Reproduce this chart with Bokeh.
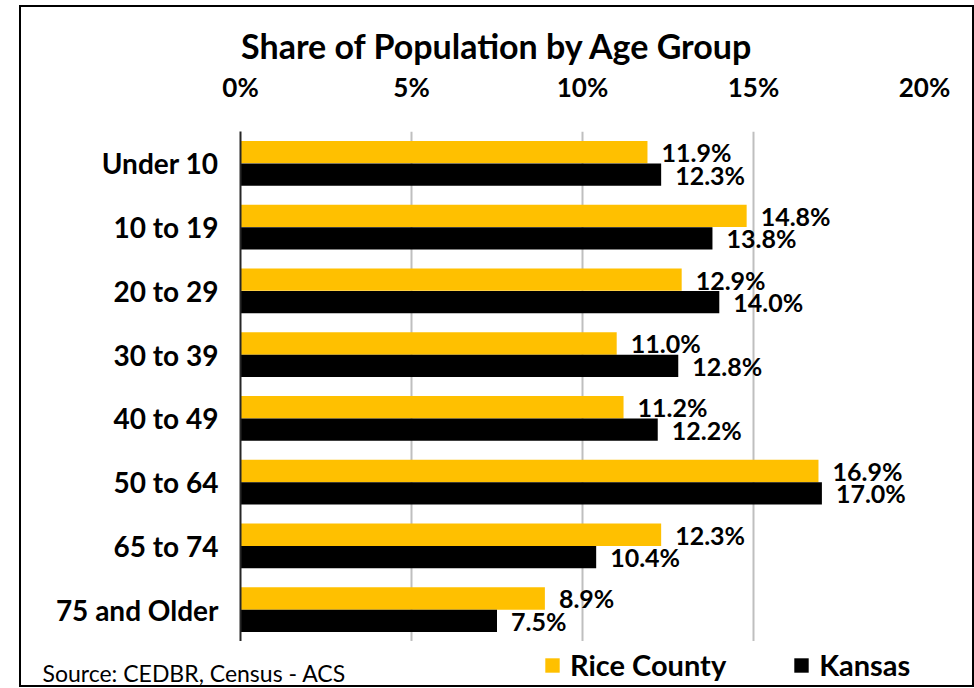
from bokeh.plotting import figure
from bokeh.layouts import column
from bokeh.models import (ColumnDataSource, FactorRange, Range1d, FixedTicker,
                          PrintfTickFormatter, LabelSet, Legend, LegendItem, Label)
from bokeh.transform import dodge
from bokeh.embed import file_html
from bokeh.resources import INLINE
from bokeh.core.properties import value

categories = ["Under 10", "10 to 19", "20 to 29", "30 to 39",
              "40 to 49", "50 to 64", "65 to 74", "75 and Older"]
rice_county = [11.9, 14.8, 12.9, 11.0, 11.2, 16.9, 12.3, 8.9]
kansas = [12.3, 13.8, 14.0, 12.8, 12.2, 17.0, 10.4, 7.5]
x_ticks = [0, 5, 10, 15, 20]
series_names = ["Rice County", "Kansas"]
title_text = "Share of Population by Age Group"
source_text = "Source: CEDBR, Census - ACS"

FONT = "Lato"
GOLD = "#FFC000"
BLACK = "#000000"
W = 951

src = ColumnDataSource(dict(
    cat=categories,
    rice=rice_county,
    kansas=kansas,
    rice_lbl=[f"{v:.1f}%" for v in rice_county],
    kansas_lbl=[f"{v:.1f}%" for v in kansas],
))


def blank(fig):
    fig.outline_line_color = None
    fig.background_fill_color = "white"
    fig.border_fill_color = "white"
    fig.axis.visible = False
    fig.grid.visible = False
    fig.frame_align = False


# ---- top: title ----
p_top = figure(width=W, height=60, x_range=Range1d(0, 1), y_range=Range1d(0, 1),
               output_backend="svg", toolbar_location=None,
               min_border_left=0, min_border_right=0, min_border_top=0, min_border_bottom=0)
blank(p_top)
p_top.add_layout(Label(x=476, y=22, x_units="screen", y_units="screen", text=title_text,
                       text_align="center", text_baseline="middle",
                       text_font=FONT, text_font_style="bold", text_font_size="34px",
                       text_color="#000000"))

# ---- main chart ----
p = figure(width=W, height=574,
           x_range=Range1d(0, 20),
           y_range=FactorRange(*reversed(categories)),
           x_axis_location="above",
           output_backend="svg", toolbar_location=None,
           min_border_left=219, min_border_right=48,
           min_border_top=60, min_border_bottom=0)
p.outline_line_color = None
p.background_fill_color = "white"
p.border_fill_color = "white"
p.frame_align = False

bar_h = 0.35
off = 0.175
p.hbar(y=dodge("cat", off, range=p.y_range), right="rice", left=0, height=bar_h,
       source=src, fill_color=GOLD, line_color=None)
p.hbar(y=dodge("cat", -off, range=p.y_range), right="kansas", left=0, height=bar_h,
       source=src, fill_color=BLACK, line_color=None)

lbl_common = dict(x_offset=14, text_baseline="middle", text_align="left",
                  text_font=value(FONT), text_font_style="bold",
                  text_font_size="25px", text_color="#000000")
p.add_layout(LabelSet(x="rice", y=dodge("cat", off, range=p.y_range), text="rice_lbl",
                      source=src, **lbl_common))
p.add_layout(LabelSet(x="kansas", y=dodge("cat", -off, range=p.y_range), text="kansas_lbl",
                      source=src, **lbl_common))

xa = p.xaxis[0]
xa.ticker = FixedTicker(ticks=x_ticks)
xa.formatter = PrintfTickFormatter(format="%d%%")
xa.axis_line_color = None
xa.major_tick_line_color = None
xa.minor_tick_line_color = None
xa.major_label_text_font = FONT
xa.major_label_text_font_style = "bold"
xa.major_label_text_font_size = "26px"
xa.major_label_text_color = "#000000"
xa.major_label_standoff = 23

ya = p.yaxis[0]
ya.axis_line_color = "#262626"
ya.axis_line_width = 2
ya.major_tick_line_color = None
ya.minor_tick_line_color = None
ya.major_label_text_font = FONT
ya.major_label_text_font_style = "bold"
ya.major_label_text_font_size = "28px"
ya.major_label_text_color = "#000000"
ya.major_label_standoff = 16

p.ygrid.grid_line_color = None
p.xgrid.ticker = FixedTicker(ticks=x_ticks[1:])
p.xgrid.grid_line_color = "#BFBFBF"
p.xgrid.grid_line_width = 2

# ---- bottom: legend + source ----
p_bot = figure(width=W, height=44, x_range=Range1d(0, 1), y_range=Range1d(0, 1),
               output_backend="svg", toolbar_location=None,
               min_border_left=0, min_border_right=0, min_border_top=0, min_border_bottom=0)
blank(p_bot)
# zero-area proxies (same data) that only carry the legend swatches
lr1 = p_bot.hbar(y=0, left="rice", right="rice", height=0, source=src,
                 fill_color=GOLD, line_color=None)
lr2 = p_bot.hbar(y=0, left="kansas", right="kansas", height=0, source=src,
                 fill_color=BLACK, line_color=None)
p_bot.add_layout(Label(x=21, y=13, x_units="screen", y_units="screen", text=source_text,
                       text_align="left", text_baseline="middle",
                       text_font=FONT, text_font_style="normal", text_font_size="23px",
                       text_color="#000000"))
legend = Legend(items=[LegendItem(label=series_names[0], renderers=[lr1]),
                       LegendItem(label=series_names[1], renderers=[lr2])],
                location=(522, 3), orientation="horizontal",
                border_line_color=None, background_fill_alpha=0,
                padding=0, margin=0, spacing=66, label_standoff=9,
                glyph_width=18, glyph_height=18,
                label_text_font=FONT, label_text_font_style="bold",
                label_text_font_size="29px", label_text_color="#000000")
p_bot.add_layout(legend, "center")

layout = column(p_top, p, p_bot, spacing=0,
                styles={"border": "2px solid #000000", "margin-left": "19px", "margin-top": "5px"})

open("out.html", "w").write(file_html(layout, INLINE))
